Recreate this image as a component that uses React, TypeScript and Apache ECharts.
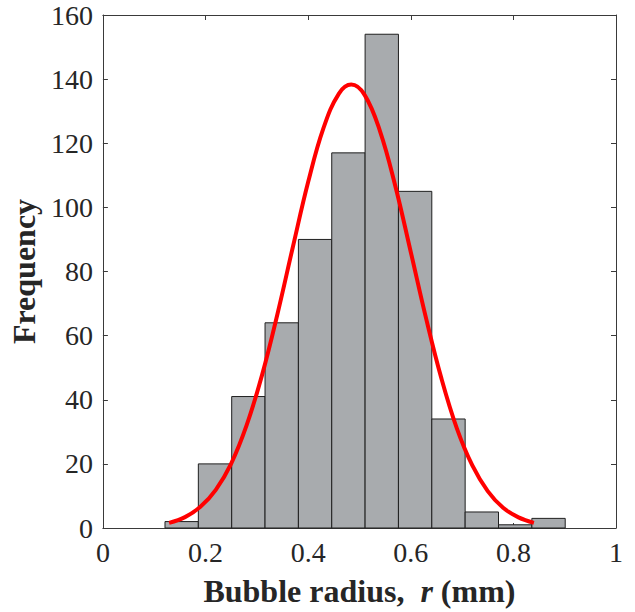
import { useEffect, useRef } from "react";
import * as echarts from "echarts";

const binEdges = [0.121, 0.186, 0.251, 0.316, 0.381, 0.446, 0.511, 0.576, 0.641, 0.706, 0.771, 0.836, 0.901];
const counts = [2, 20, 41, 64, 90, 117, 154, 105, 34, 5, 1, 3];

const fitX = [0.129, 0.16, 0.19, 0.22, 0.25, 0.28, 0.31, 0.34, 0.37, 0.4, 0.43, 0.46, 0.484, 0.51, 0.54, 0.57, 0.6, 0.63, 0.66, 0.69, 0.72, 0.75, 0.78, 0.81, 0.84];
const fitY = [1.6, 3.4, 6.6, 11.9, 20.1, 32.0, 47.6, 66.6, 87.5, 107.9, 124.8, 135.5, 138.3, 135.1, 123.8, 106.6, 86.1, 65.3, 46.5, 31.0, 19.5, 11.5, 6.3, 3.3, 1.6];

const xName = "Bubble radius,";
const yName = "Frequency";

export default function App() {
  const ref = useRef<HTMLDivElement>(null);
  useEffect(() => {
    if (!ref.current) return;
    const chart = echarts.init(ref.current, null, { renderer: "svg" });
    const bars = counts.map((c, i) => [binEdges[i], binEdges[i + 1], c]);
    const curve = fitX.map((x, i) => [x, fitY[i]]);
    const axisColor = "#3a3a3a";
    const font = "'Liberation Serif', 'Times New Roman', serif";
    const tick = { show: true, inside: true, length: 5, lineStyle: { color: axisColor, width: 1 } };
    chart.setOption({
      animation: false,
      backgroundColor: "#ffffff",
      grid: { left: 102, right: 19, top: 15, bottom: 81, containLabel: false },
      xAxis: [
        {
          type: "value",
          min: 0,
          max: 1,
          interval: 0.2,
          position: "bottom",
          axisLine: { show: true, onZero: false, lineStyle: { color: axisColor, width: 1 } },
          axisTick: tick,
          splitLine: { show: false },
          axisLabel: { color: "#262626", fontFamily: font, fontSize: 28, margin: 10 },
          name: "{b|" + xName + "  }{i|r}{b| (mm)}",
          nameLocation: "middle",
          nameGap: 47,
          nameTextStyle: {
            rich: {
              b: { fontFamily: font, fontSize: 32, fontWeight: "bold", color: "#262626" },
              i: { fontFamily: font, fontSize: 32, fontWeight: "bold", fontStyle: "italic", color: "#262626" },
            },
          },
        },
        {
          type: "value",
          min: 0,
          max: 1,
          interval: 0.2,
          position: "top",
          axisLine: { show: true, onZero: false, lineStyle: { color: axisColor, width: 1 } },
          axisTick: tick,
          splitLine: { show: false },
          axisLabel: { show: false },
        },
      ],
      yAxis: [
        {
          type: "value",
          min: 0,
          max: 160,
          interval: 20,
          position: "left",
          axisLine: { show: true, onZero: false, lineStyle: { color: axisColor, width: 1 } },
          axisTick: tick,
          splitLine: { show: false },
          axisLabel: { color: "#262626", fontFamily: font, fontSize: 28, margin: 10 },
          name: yName,
          nameLocation: "middle",
          nameGap: 61,
          nameTextStyle: { fontFamily: font, fontSize: 32, fontWeight: "bold", color: "#262626" },
        },
        {
          type: "value",
          min: 0,
          max: 160,
          interval: 20,
          position: "right",
          axisLine: { show: true, onZero: false, lineStyle: { color: axisColor, width: 1 } },
          axisTick: tick,
          splitLine: { show: false },
          axisLabel: { show: false },
        },
      ],
      series: [
        {
          type: "custom",
          xAxisIndex: 0,
          yAxisIndex: 0,
          data: bars,
          encode: { x: [0, 1], y: 2 },
          renderItem: (params: any, api: any) => {
            const x0 = api.value(0);
            const x1 = api.value(1);
            const c = api.value(2);
            const p0 = api.coord([x0, c]);
            const p1 = api.coord([x1, 0]);
            return {
              type: "rect",
              shape: { x: p0[0], y: p0[1], width: p1[0] - p0[0], height: p1[1] - p0[1] },
              style: { fill: "#a8abae", stroke: "#1f1f1f", lineWidth: 1 },
            };
          },
        },
        {
          type: "line",
          xAxisIndex: 0,
          yAxisIndex: 0,
          data: curve,
          smooth: 0.4,
          showSymbol: false,
          symbol: "none",
          lineStyle: { color: "#ff0000", width: 4 },
          z: 5,
        },
      ],
    });
    return () => chart.dispose();
  }, []);
  return <div ref={ref} style={{ position: "fixed", left: 0, top: 0, width: 635, height: 612 }} />;
}
